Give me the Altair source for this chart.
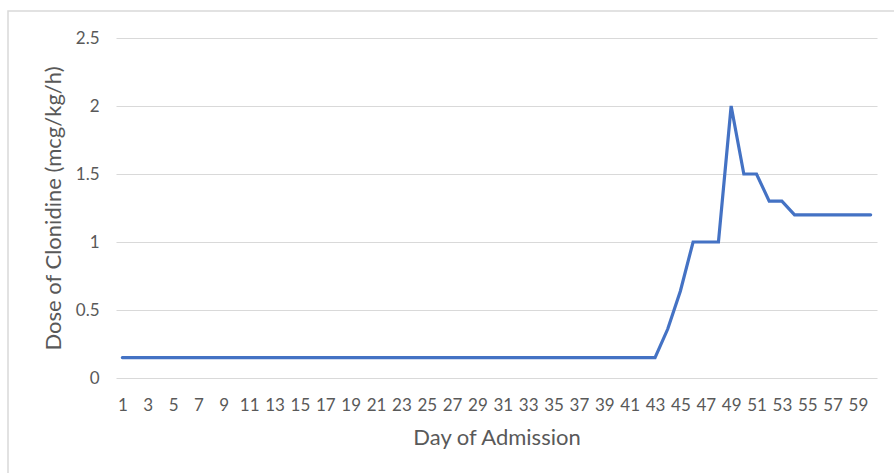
import altair as alt
import pandas as pd

days = list(range(1, 61))
dose = [0.15] * 43 + [0.36, 0.64, 1.0, 1.0, 1.0, 2.0, 1.5, 1.5, 1.3, 1.3, 1.2, 1.2, 1.2, 1.2, 1.2, 1.2, 1.2]
x_ticks = list(range(1, 60, 2))
y_ticks = [0, 0.5, 1, 1.5, 2, 2.5]

df = pd.DataFrame({"day": days, "dose": dose})

FONT = "Lato"
TXT = "#595959"

line = alt.Chart(df).mark_line(color="#4472C4", strokeWidth=3.2, strokeJoin="miter", strokeCap="round").encode(
    x=alt.X("day:Q",
            scale=alt.Scale(domain=[0.5, 60.5], nice=False, zero=False),
            axis=alt.Axis(values=x_ticks, title="Day of Admission", grid=False, ticks=False,
                          domain=False, labelPadding=19, labelFontSize=17, labelColor=TXT,
                          labelFont=FONT, titleFont=FONT, titleFontSize=22, titleColor=TXT,
                          titleFontWeight="normal", titlePadding=14, labelFlush=False,
                          labelOverlap=False)),
    y=alt.Y("dose:Q",
            scale=alt.Scale(domain=[0, 2.5], nice=False),
            axis=alt.Axis(values=y_ticks, format="~g", title="Dose of Clonidine (mcg/kg/h)",
                          grid=True, gridColor="#D9D9D9", gridWidth=1, ticks=False, domain=False,
                          labelPadding=17, labelFontSize=17, labelColor=TXT, labelFont=FONT,
                          titleFont=FONT, titleFontSize=22, titleColor=TXT,
                          titleFontWeight="normal", titlePadding=10, labelFlush=False)),
)

border = alt.Chart(pd.DataFrame({"a": [0]})).mark_rect(
    fill=None, stroke="#D9D9D9", strokeWidth=1.5
).encode(
    x=alt.value(-108), x2=alt.value(900), y=alt.value(-27), y2=alt.value(500)
)

chart = alt.layer(border, line).properties(
    width=761, height=340,
    padding={"left": 116, "top": 38, "right": 17, "bottom": 95},
    autosize=alt.AutoSizeParams(type="none"),
    background="white",
).configure_view(stroke=None)

chart.save("out.html", embed_options={"renderer": "svg", "actions": False})
